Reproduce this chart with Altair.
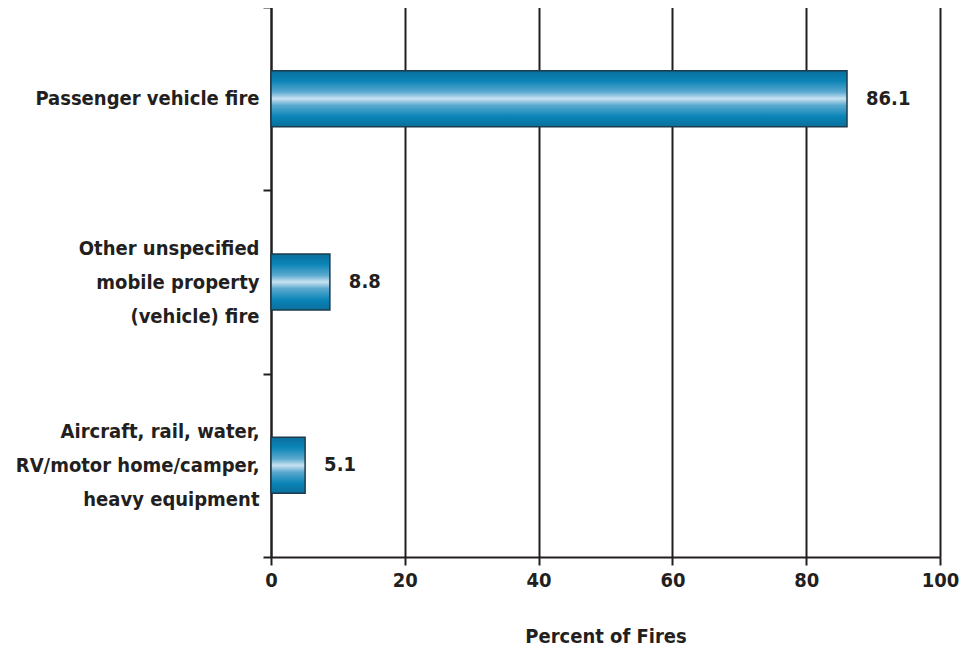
import altair as alt
import pandas as pd

categories = [
    "Passenger vehicle fire",
    "Other unspecified|mobile property|(vehicle) fire",
    "Aircraft, rail, water,|RV/motor home/camper,|heavy equipment",
]
values = [86.1, 8.8, 5.1]
x_ticks = [0, 20, 40, 60, 80, 100]

df = pd.DataFrame({"category": categories, "value": values})

FONT = "Liberation Sans Narrow, DejaVu Sans Condensed, Arial Narrow, sans-serif"
INK = "#231f20"
FS = 20
LH = 34

gradient = alt.LinearGradient(
    gradient="linear",
    x1=0, y1=0, x2=0, y2=1,
    stops=[
        alt.GradientStop(color="#0a6f9e", offset=0),
        alt.GradientStop(color="#0a84b6", offset=0.18),
        alt.GradientStop(color="#5aa9cf", offset=0.38),
        alt.GradientStop(color="#c8e2f1", offset=0.5),
        alt.GradientStop(color="#5aa9cf", offset=0.62),
        alt.GradientStop(color="#0a84b6", offset=0.82),
        alt.GradientStop(color="#0a6f9e", offset=1),
    ],
)

y_enc = alt.Y(
    "category:N",
    sort=categories,
    scale=alt.Scale(paddingInner=0, paddingOuter=0),
    axis=alt.Axis(
        title=None,
        domainColor=INK,
        domainWidth=2,
        tickColor=INK,
        tickWidth=2,
        tickSize=8,
        tickBand="extent",
        labelExpr="split(datum.label, '|')",
        labelLineHeight=LH,
        labelOffset={
            "condition": {"test": "datum.value != 'Passenger vehicle fire'", "value": -LH},
            "value": 0,
        },
        labelFont=FONT,
        labelFontSize=FS,
        labelFontWeight="bold",
        labelColor=INK,
        labelPadding=4,
        labelLimit=400,
        minExtent=263,
        maxExtent=263,
        grid=False,
    ),
)

x_enc = alt.X(
    "value:Q",
    scale=alt.Scale(domain=[0, 100], nice=False),
    axis=alt.Axis(
        values=x_ticks,
        title="Percent of Fires",
        titleFont=FONT,
        titleFontSize=FS,
        titleFontWeight="bold",
        titleColor=INK,
        titlePadding=36,
        grid=True,
        gridColor=INK,
        gridWidth=2,
        gridOpacity=1,
        domainColor=INK,
        domainWidth=2,
        tickColor=INK,
        tickWidth=2,
        tickSize=8,
        labelFont=FONT,
        labelFontSize=FS,
        labelFontWeight="bold",
        labelColor=INK,
        labelPadding=5,
        labelFlush=False,
    ),
)

bars = alt.Chart(df).mark_bar(
    color=gradient, stroke="#1d3b4c", strokeWidth=1.5, size=56
).encode(x=x_enc, y=y_enc)

labels = alt.Chart(df).mark_text(
    align="left", baseline="middle", dx=19,
    font=FONT, fontSize=FS, fontWeight="bold", color=INK
).encode(
    x=alt.X("value:Q"),
    y=alt.Y("category:N", sort=categories),
    text=alt.Text("value:Q", format=".1f"),
)

chart = (bars + labels).properties(
    width=951,
    height=550,
    padding={"left": 0, "top": -11, "right": 0, "bottom": 0},
    autosize=alt.AutoSizeParams(type="fit-x", contains="padding"),
).configure_view(stroke=None).configure(background="white")

chart.save("out.html", embed_options={"renderer": "svg", "actions": False})
